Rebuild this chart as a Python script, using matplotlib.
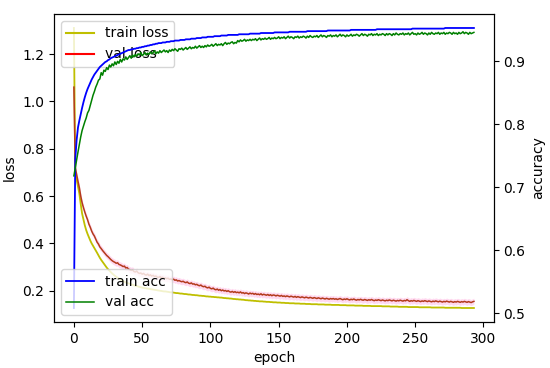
""" training curves - loss and accuracy over epochs """

import numpy as np
import matplotlib
matplotlib.use('Agg')
import matplotlib.pyplot as plt
from matplotlib.lines import Line2D


# DATA (values in thousandths)
train_loss_k = [
    1310, 700, 670, 640, 610, 566, 526, 500, 476, 456,
    440, 426, 412, 400, 390, 380, 370, 360, 349, 339,
    330, 322, 314, 306, 298, 291, 285, 279, 273, 268,
    263, 259, 255, 251, 247, 244, 241, 238, 235, 233,
    231, 229, 227, 225, 223, 221, 220, 218, 216, 215,
    213, 212, 211, 210, 209, 208, 207, 206, 205, 204,
    203, 202, 201, 200, 199, 198, 197, 197, 196, 195,
    194, 193, 193, 192, 191, 190, 190, 189, 188, 188,
    187, 186, 186, 185, 184, 184, 183, 182, 182, 181,
    181, 180, 179, 179, 178, 178, 177, 176, 176, 175,
    175, 174, 174, 173, 173, 172, 172, 171, 171, 170,
    169, 169, 168, 168, 167, 167, 166, 165, 165, 164,
    164, 163, 163, 162, 162, 161, 160, 160, 159, 159,
    158, 158, 157, 157, 156, 156, 155, 155, 155, 154,
    154, 153, 153, 153, 152, 152, 151, 151, 151, 150,
    150, 150, 149, 149, 149, 148, 148, 148, 147, 147,
    147, 147, 146, 146, 146, 146, 145, 145, 145, 145,
    144, 144, 144, 144, 143, 143, 143, 143, 143, 142,
    142, 142, 142, 142, 141, 141, 141, 141, 141, 140,
    140, 140, 140, 140, 140, 139, 139, 139, 139, 139,
    138, 138, 138, 138, 138, 138, 137, 137, 137, 137,
    137, 137, 136, 136, 136, 136, 136, 136, 135, 135,
    135, 135, 135, 135, 135, 135, 134, 134, 134, 134,
    134, 134, 133, 133, 133, 133, 133, 133, 132, 132,
    132, 132, 132, 132, 132, 131, 131, 131, 131, 131,
    131, 131, 131, 130, 130, 130, 130, 130, 130, 130,
    130, 130, 129, 129, 129, 129, 129, 129, 129, 129,
    129, 129, 128, 128, 128, 128, 128, 128, 128, 128,
    128, 128, 128, 128, 127, 127, 127, 127, 127, 127,
    127, 127, 127, 127,
]

val_loss_k = [
    1060, 720, 690, 662, 635, 600, 572, 551, 532, 515,
    500, 481, 468, 452, 440, 431, 418, 405, 397, 385,
    378, 370, 363, 356, 349, 344, 338, 332, 327, 323,
    320, 316, 318, 311, 309, 306, 302, 304, 296, 298,
    291, 289, 286, 288, 281, 279, 283, 276, 273, 275,
    270, 273, 268, 266, 270, 264, 267, 262, 265, 260,
    262, 258, 256, 260, 255, 257, 252, 254, 251, 253,
    248, 250, 246, 249, 244, 246, 241, 243, 240, 238,
    240, 236, 234, 237, 232, 230, 233, 228, 229, 225,
    227, 223, 221, 224, 219, 217, 219, 214, 212, 215,
    210, 208, 211, 206, 204, 207, 202, 205, 200, 203,
    199, 201, 197, 200, 196, 194, 197, 193, 196, 192,
    194, 191, 195, 190, 192, 188, 191, 189, 186, 190,
    187, 189, 185, 188, 184, 186, 183, 187, 182, 185,
    183, 181, 184, 180, 183, 179, 182, 181, 178, 181,
    179, 177, 180, 176, 178, 175, 178, 176, 174, 177,
    175, 173, 176, 172, 175, 173, 171, 174, 172, 170,
    173, 171, 169, 172, 170, 168, 171, 169, 167, 170,
    168, 166, 169, 167, 165, 168, 166, 164, 167, 165,
    167, 164, 166, 163, 165, 167, 164, 162, 165, 163,
    166, 163, 161, 164, 162, 165, 162, 160, 163, 161,
    164, 161, 160, 163, 161, 159, 162, 160, 163, 160,
    158, 161, 159, 162, 160, 158, 161, 159, 157, 160,
    158, 161, 159, 157, 160, 158, 156, 159, 157, 160,
    158, 156, 159, 157, 162, 158, 155, 158, 156, 159,
    157, 155, 158, 156, 154, 157, 155, 158, 156, 154,
    157, 155, 153, 156, 154, 157, 155, 153, 156, 154,
    152, 155, 153, 156, 154, 152, 155, 153, 151, 154,
    152, 155, 153, 151, 154, 152, 155, 153, 151, 154,
    152, 150, 153, 155,
]

train_acc_k = [
    508, 745, 775, 795, 806, 816, 826, 835, 843, 850,
    856, 861, 866, 871, 875, 879, 882, 885, 888, 891,
    893, 895, 897, 899, 900, 902, 903, 905, 906, 907,
    908, 909, 910, 911, 912, 913, 914, 915, 916, 917,
    918, 918, 919, 919, 920, 920, 921, 921, 922, 922,
    923, 923, 924, 924, 925, 925, 926, 926, 927, 927,
    928, 928, 929, 929, 929, 930, 930, 930, 931, 931,
    931, 932, 932, 932, 933, 933, 933, 933, 934, 934,
    934, 934, 935, 935, 935, 935, 936, 936, 936, 936,
    937, 937, 937, 937, 938, 938, 938, 938, 939, 939,
    939, 939, 939, 940, 940, 940, 940, 940, 941, 941,
    941, 941, 941, 942, 942, 942, 942, 942, 942, 942,
    942, 943, 943, 943, 943, 943, 943, 943, 943, 944,
    944, 944, 944, 944, 944, 944, 944, 945, 945, 945,
    945, 945, 945, 945, 945, 945, 945, 946, 946, 946,
    946, 946, 946, 946, 946, 946, 946, 946, 947, 947,
    947, 947, 947, 947, 947, 947, 947, 947, 947, 947,
    947, 948, 948, 948, 948, 948, 948, 948, 948, 948,
    948, 948, 948, 948, 948, 948, 949, 949, 949, 949,
    949, 949, 949, 949, 949, 949, 949, 949, 949, 949,
    949, 949, 949, 950, 950, 950, 950, 950, 950, 950,
    950, 950, 950, 950, 950, 950, 950, 950, 950, 950,
    950, 950, 951, 951, 951, 951, 951, 951, 951, 951,
    951, 951, 951, 951, 951, 951, 951, 951, 951, 951,
    951, 951, 951, 951, 951, 951, 951, 951, 952, 952,
    952, 952, 952, 952, 952, 952, 952, 952, 952, 952,
    952, 952, 952, 952, 952, 952, 952, 952, 952, 952,
    952, 952, 953, 953, 953, 953, 953, 953, 953, 953,
    953, 953, 953, 953, 953, 953, 953, 953, 953, 953,
    953, 953, 953, 953,
]

val_acc_k = [
    718, 731, 744, 756, 768, 780, 790, 797, 804, 810,
    818, 822, 830, 838, 846, 852, 859, 864, 870, 872,
    882, 878, 886, 884, 890, 887, 894, 891, 896, 893,
    899, 895, 900, 897, 903, 899, 904, 902, 907, 903,
    906, 909, 905, 910, 907, 911, 908, 912, 910, 914,
    909, 911, 914, 910, 913, 911, 915, 912, 914, 917,
    912, 915, 913, 917, 914, 916, 918, 915, 917, 914,
    918, 916, 919, 917, 920, 918, 916, 920, 919, 921,
    918, 920, 922, 919, 921, 923, 920, 922, 921, 924,
    921, 923, 925, 922, 924, 922, 925, 923, 926, 924,
    925, 927, 924, 926, 928, 925, 927, 926, 928, 925,
    928, 930, 927, 929, 928, 930, 931, 928, 930, 929,
    933, 931, 934, 932, 933, 935, 932, 934, 933, 935,
    933, 935, 934, 936, 933, 935, 937, 934, 936, 935,
    937, 935, 936, 938, 935, 937, 936, 938, 936, 937,
    939, 936, 938, 937, 939, 936, 938, 940, 937, 939,
    938, 936, 939, 938, 940, 937, 939, 938, 940, 939,
    937, 940, 938, 941, 939, 938, 940, 939, 941, 938,
    940, 942, 939, 941, 940, 938, 941, 940, 942, 939,
    941, 940, 942, 939, 941, 943, 940, 942, 941, 939,
    942, 940, 941, 943, 940, 942, 941, 943, 942, 940,
    942, 944, 941, 943, 942, 940, 943, 942, 944, 941,
    943, 942, 944, 941, 943, 942, 944, 943, 941, 944,
    942, 944, 943, 941, 944, 942, 945, 943, 942, 944,
    943, 945, 942, 944, 943, 945, 942, 944, 946, 943,
    944, 942, 945, 943, 944, 946, 943, 945, 944, 942,
    945, 943, 946, 944, 943, 945, 944, 946, 943, 945,
    944, 946, 943, 945, 944, 946, 945, 943, 946, 944,
    945, 943, 946, 944, 945, 947, 944, 946, 945, 943,
    946, 944, 945, 946,
]

train_loss = np.array(train_loss_k) / 1000
val_loss = np.array(val_loss_k) / 1000
train_acc = np.array(train_acc_k) / 1000
val_acc = np.array(val_acc_k) / 1000
epochs = np.arange(len(train_loss))

# Plot
fig = plt.figure(figsize=(5.5, 3.68), dpi=100)
ax1 = fig.add_axes([0.098, 0.125, 0.8, 0.837])

band = 0.013  # shaded spread around the val loss
ax1.fill_between(epochs, val_loss - band, val_loss + band,
                 color='#ffd9f0', linewidth=0)
ax1.plot(epochs, train_loss, color='y', linewidth=1.3)
ax1.plot(epochs, val_loss, color='#b33a1c', linewidth=1.1)
ax1.set_xlabel('epoch')
ax1.set_ylabel('loss')
ax1.legend(handles=[Line2D([], [], color='y', label='train loss'),
                    Line2D([], [], color='r', label='val loss')],
           loc='upper left')

ax2 = ax1.twinx()
ax2.plot(epochs, train_acc, color='b', linewidth=1.3, label='train acc')
ax2.plot(epochs, val_acc, color='g', linewidth=1.1, label='val acc')
ax2.set_ylabel('accuracy')
ax2.legend(loc='lower left')

fig.savefig('out.png', dpi=100)
